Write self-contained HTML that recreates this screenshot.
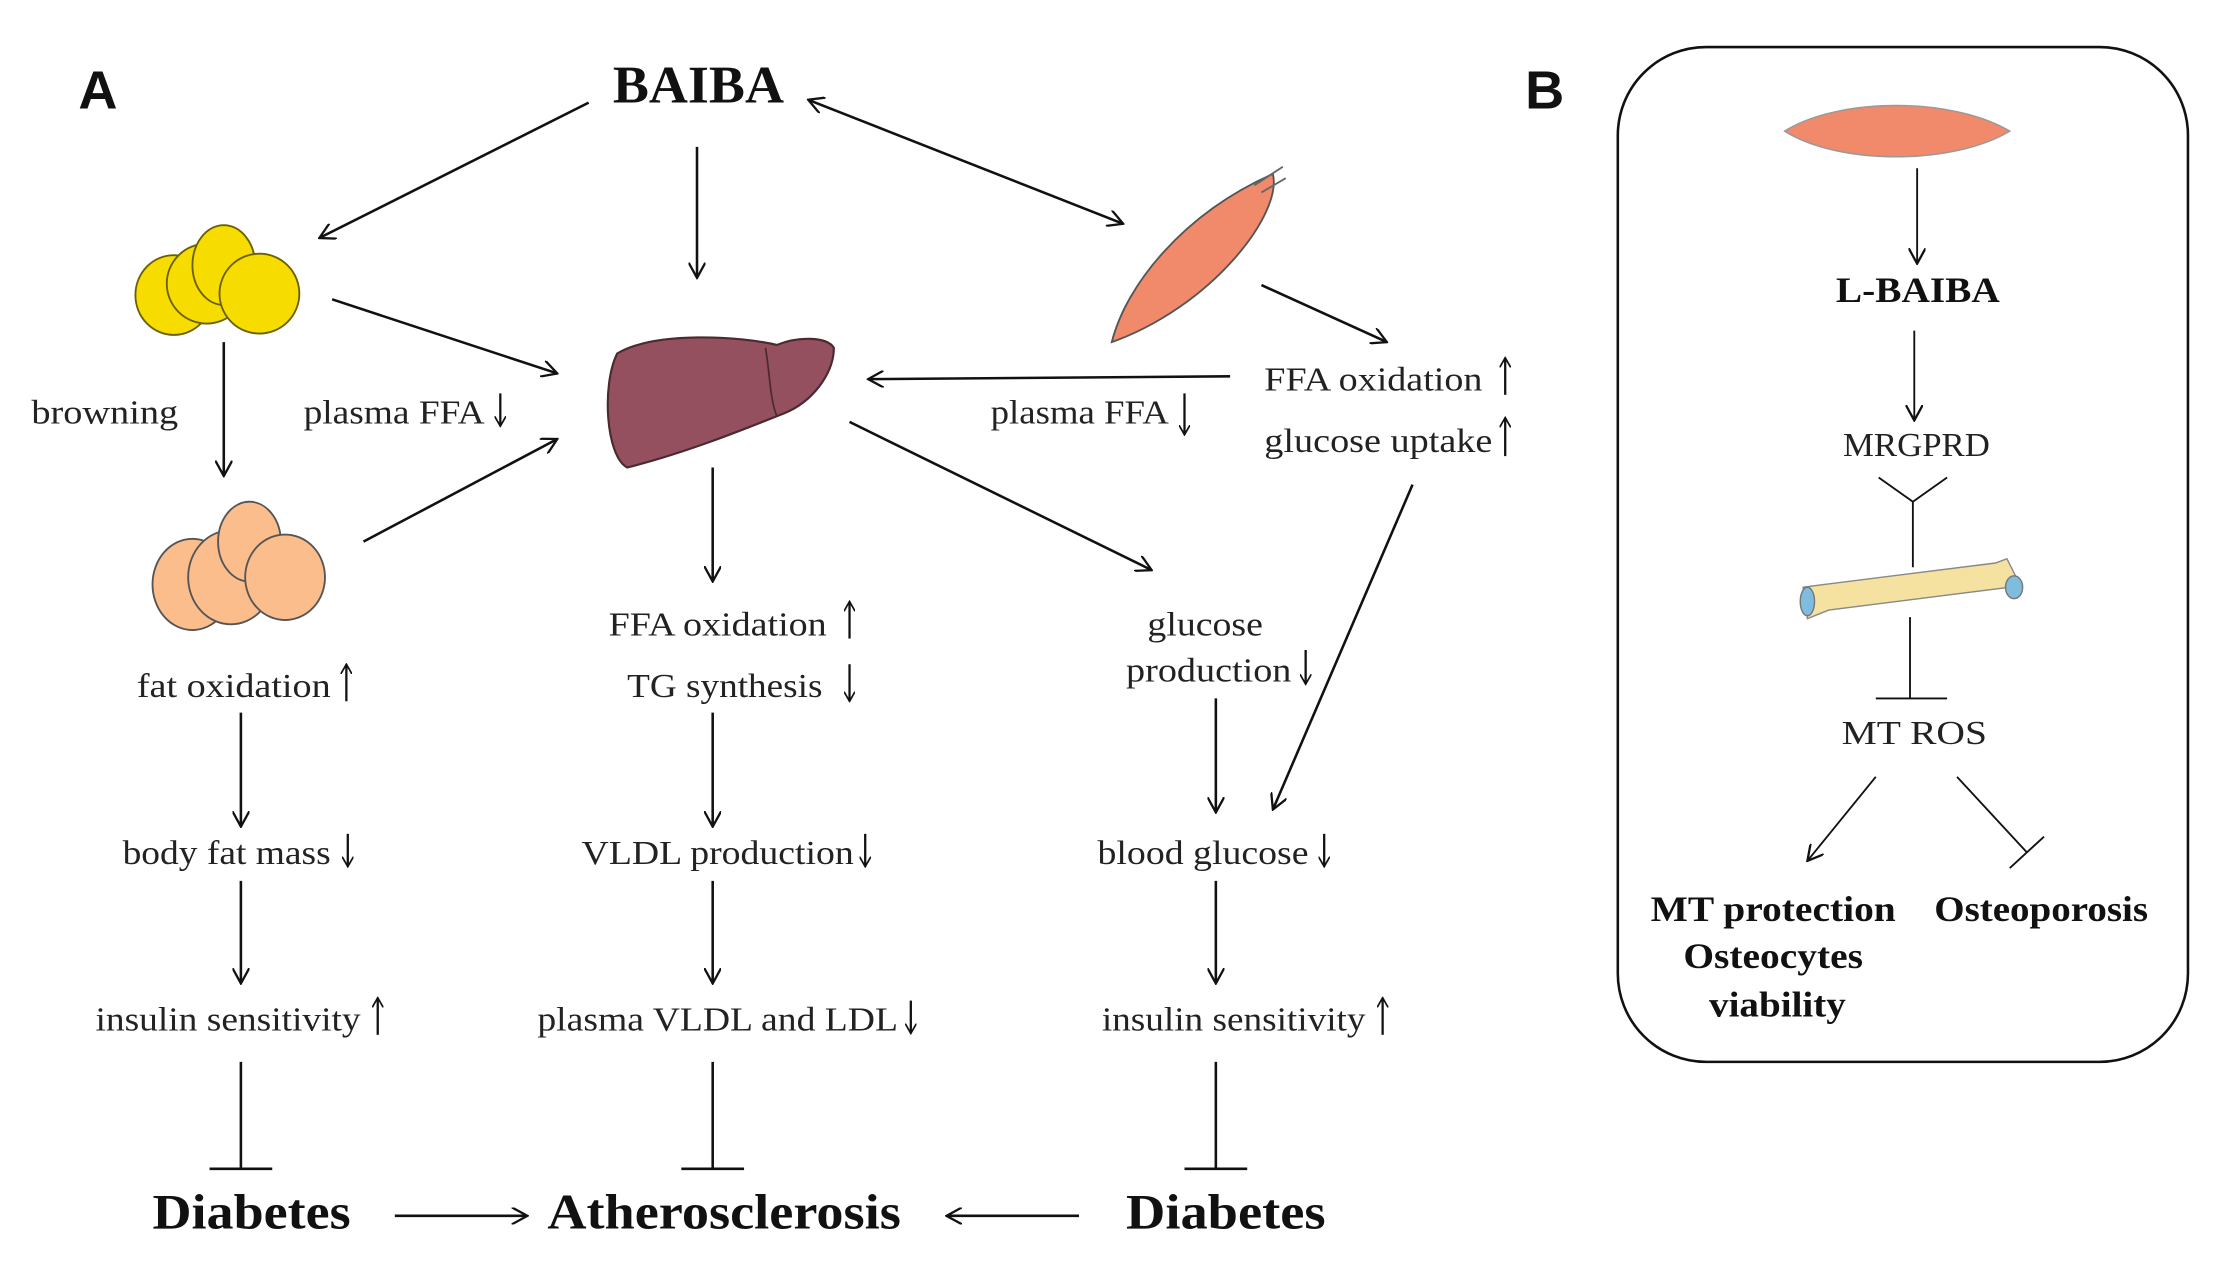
<!DOCTYPE html>
<html><head><meta charset="utf-8"><style>
html,body{margin:0;padding:0;background:#fff;}
svg{display:block;}
.t{font-family:"Liberation Serif",serif;font-size:24px;fill:#222;}
.b{font-family:"Liberation Serif",serif;font-weight:bold;fill:#111;}
</style></head><body>
<svg width="2235" height="1270" viewBox="0 0 1568 891" preserveAspectRatio="none" xmlns="http://www.w3.org/2000/svg">
<defs>
<marker id="a" viewBox="0 0 12 12" refX="11" refY="6" markerWidth="12" markerHeight="12" markerUnits="userSpaceOnUse" orient="auto-start-reverse">
<path d="M0,0 L11,6 L0,12" fill="none" stroke="#111" stroke-width="1.6"/></marker>
<marker id="s" viewBox="0 0 8 8" refX="7" refY="4" markerWidth="8" markerHeight="8" markerUnits="userSpaceOnUse" orient="auto">
<path d="M0,0 L7,4 L0,8" fill="none" stroke="#111" stroke-width="1.2"/></marker>
</defs>
<g stroke="#111" stroke-width="1.8" fill="none">
<line x1="413" y1="72" x2="224" y2="167" marker-end="url(#a)"/>
<line x1="489" y1="103" x2="489" y2="195" marker-end="url(#a)"/>
<line x1="567" y1="70" x2="788" y2="157" marker-end="url(#a)" marker-start="url(#a)"/>
<line x1="233" y1="210" x2="391" y2="262" marker-end="url(#a)"/>
<line x1="157" y1="240" x2="157" y2="334" marker-end="url(#a)"/>
<line x1="255" y1="380" x2="391" y2="308" marker-end="url(#a)"/>
<line x1="885" y1="200" x2="973" y2="240" marker-end="url(#a)"/>
<line x1="863" y1="264" x2="609" y2="266" marker-end="url(#a)"/>
<line x1="596" y1="296" x2="808" y2="400" marker-end="url(#a)"/>
<line x1="991" y1="340" x2="893" y2="568" marker-end="url(#a)"/>
<line x1="500" y1="328" x2="500" y2="408" marker-end="url(#a)"/>
<line x1="169" y1="500" x2="169" y2="580" marker-end="url(#a)"/>
<line x1="500" y1="500" x2="500" y2="580" marker-end="url(#a)"/>
<line x1="853" y1="490" x2="853" y2="570" marker-end="url(#a)"/>
<line x1="169" y1="618" x2="169" y2="690" marker-end="url(#a)"/>
<line x1="500" y1="618" x2="500" y2="690" marker-end="url(#a)"/>
<line x1="853" y1="618" x2="853" y2="690" marker-end="url(#a)"/>
<path d="M169,745 V820 M147,820 H191 M500,745 V820 M478,820 H522 M853,745 V820 M831,820 H875"/>
<line x1="277" y1="853" x2="370" y2="853" marker-end="url(#a)"/>
<line x1="757" y1="853" x2="664" y2="853" marker-end="url(#a)"/>
</g>
<g stroke="#111" stroke-width="1.6" fill="none">
<line x1="351" y1="276" x2="351" y2="299" marker-end="url(#s)"/>
<line x1="831" y1="276" x2="831" y2="305" marker-end="url(#s)"/>
<line x1="1056" y1="277" x2="1056" y2="251" marker-end="url(#s)"/>
<line x1="1056" y1="320" x2="1056" y2="293" marker-end="url(#s)"/>
<line x1="596" y1="448" x2="596" y2="422" marker-end="url(#s)"/>
<line x1="596" y1="466" x2="596" y2="492" marker-end="url(#s)"/>
<line x1="916" y1="456" x2="916" y2="480" marker-end="url(#s)"/>
<line x1="243" y1="492" x2="243" y2="466" marker-end="url(#s)"/>
<line x1="244" y1="585" x2="244" y2="608" marker-end="url(#s)"/>
<line x1="607" y1="585" x2="607" y2="608" marker-end="url(#s)"/>
<line x1="929" y1="585" x2="929" y2="608" marker-end="url(#s)"/>
<line x1="265" y1="726" x2="265" y2="700" marker-end="url(#s)"/>
<line x1="639" y1="702" x2="639" y2="725" marker-end="url(#s)"/>
<line x1="970" y1="726" x2="970" y2="700" marker-end="url(#s)"/>
</g>
<g stroke="#6a6000" stroke-width="1.3" fill="#f7dc00">
<ellipse cx="122" cy="207" rx="27" ry="28"/>
<ellipse cx="145" cy="199" rx="28" ry="28"/>
<ellipse cx="157" cy="186" rx="22" ry="28"/>
<ellipse cx="182" cy="206" rx="28" ry="28"/>
</g>
<g stroke="#555" stroke-width="1.3" fill="#fbbd8c">
<ellipse cx="135" cy="410" rx="28" ry="32"/>
<ellipse cx="162" cy="405" rx="30" ry="33"/>
<ellipse cx="175" cy="380" rx="22" ry="28"/>
<ellipse cx="200" cy="405" rx="28" ry="30"/>
</g>
<path d="M433,248 C460,232 520,236 545,242 C560,236 580,236 585,244 C585,262 570,282 550,290 C520,302 480,318 440,328 C425,320 422,270 433,248 Z" fill="#955060" stroke="#4a2a30" stroke-width="1.5"/>
<path d="M537,244 C540,260 540,280 545,292" stroke="#4a2a30" stroke-width="1.2" fill="none"/>
<path d="M780,240 C790,200 830,150 893,122 C900,150 850,215 780,240 Z" fill="#f08a6a" stroke="#555" stroke-width="1.3"/>
<path d="M880,130 L900,117 M885,135 L902,125" stroke="#666" stroke-width="1.3"/>
<rect x="1135" y="33" width="400" height="712" rx="62" ry="62" fill="none" stroke="#111" stroke-width="1.8"/>
<path d="M1252,92 C1290,68 1370,68 1410,92 C1370,116 1290,116 1252,92 Z" fill="#f08a6a" stroke="#999" stroke-width="1"/>
<g stroke="#111" stroke-width="1.3" fill="none">
<line x1="1345" y1="118" x2="1345" y2="185" marker-end="url(#a)"/>
<line x1="1343" y1="232" x2="1343" y2="295" marker-end="url(#a)"/>
<path d="M1318,335 L1342,352 L1366,335 M1342,352 V398"/>
<path d="M1340,433 V490 M1316,490 H1366"/>
<line x1="1316" y1="545" x2="1268" y2="604" marker-end="url(#a)"/>
<path d="M1373,545 L1422,598 M1410,609 L1434,587"/>
</g>
<path d="M1265,412 L1280,410 L1400,395 L1408,392 L1414,404 L1410,412 L1283,428 L1268,434 Z" fill="#f5e1a0" stroke="#888" stroke-width="1"/>
<ellipse cx="1268" cy="422" rx="5" ry="10" fill="#7fbde0" stroke="#777"/>
<ellipse cx="1413" cy="412" rx="6" ry="8" fill="#7fbde0" stroke="#777"/>
<text x="55" y="76" style="font-family:'Liberation Sans',sans-serif;font-weight:bold;font-size:38px" fill="#111">A</text>
<text x="1070" y="76" style="font-family:'Liberation Sans',sans-serif;font-weight:bold;font-size:38px" fill="#111">B</text>
<g lengthAdjust="spacingAndGlyphs">
<text x="430" y="72" class="b" font-size="37" textLength="120" lengthAdjust="spacingAndGlyphs">BAIBA</text>
<text x="22" y="297" class="t" textLength="103" lengthAdjust="spacingAndGlyphs">browning</text>
<text x="213" y="297" class="t" textLength="127" lengthAdjust="spacingAndGlyphs">plasma FFA</text>
<text x="695" y="297" class="t" textLength="125" lengthAdjust="spacingAndGlyphs">plasma FFA</text>
<text x="887" y="274" class="t" textLength="153" lengthAdjust="spacingAndGlyphs">FFA oxidation</text>
<text x="887" y="317" class="t" textLength="160" lengthAdjust="spacingAndGlyphs">glucose uptake</text>
<text x="427" y="446" class="t" textLength="153" lengthAdjust="spacingAndGlyphs">FFA oxidation</text>
<text x="440" y="489" class="t" textLength="137" lengthAdjust="spacingAndGlyphs">TG synthesis</text>
<text x="805" y="446" class="t" textLength="81" lengthAdjust="spacingAndGlyphs">glucose</text>
<text x="790" y="478" class="t" textLength="116" lengthAdjust="spacingAndGlyphs">production</text>
<text x="96" y="489" class="t" textLength="136" lengthAdjust="spacingAndGlyphs">fat oxidation</text>
<text x="86" y="606" class="t" textLength="146" lengthAdjust="spacingAndGlyphs">body fat mass</text>
<text x="408" y="606" class="t" textLength="191" lengthAdjust="spacingAndGlyphs">VLDL production</text>
<text x="770" y="606" class="t" textLength="148" lengthAdjust="spacingAndGlyphs">blood glucose</text>
<text x="67" y="723" class="t" textLength="186" lengthAdjust="spacingAndGlyphs">insulin sensitivity</text>
<text x="377" y="723" class="t" textLength="253" lengthAdjust="spacingAndGlyphs">plasma VLDL and LDL</text>
<text x="773" y="723" class="t" textLength="185" lengthAdjust="spacingAndGlyphs">insulin sensitivity</text>
<text x="107" y="862" class="b" font-size="35" textLength="139" lengthAdjust="spacingAndGlyphs">Diabetes</text>
<text x="384" y="862" class="b" font-size="35" textLength="248" lengthAdjust="spacingAndGlyphs">Atherosclerosis</text>
<text x="790" y="862" class="b" font-size="35" textLength="140" lengthAdjust="spacingAndGlyphs">Diabetes</text>
<text x="1288" y="212" class="b" font-size="25" textLength="115" lengthAdjust="spacingAndGlyphs">L-BAIBA</text>
<text x="1293" y="320" class="t" font-size="22" textLength="103" lengthAdjust="spacingAndGlyphs">MRGPRD</text>
<text x="1292" y="522" class="t" font-size="25" textLength="102" lengthAdjust="spacingAndGlyphs">MT ROS</text>
<text x="1158" y="646" class="b" font-size="25" textLength="172" lengthAdjust="spacingAndGlyphs">MT protection</text>
<text x="1181" y="679" class="b" font-size="25" textLength="126" lengthAdjust="spacingAndGlyphs">Osteocytes</text>
<text x="1199" y="713" class="b" font-size="25" textLength="96" lengthAdjust="spacingAndGlyphs">viability</text>
<text x="1357" y="646" class="b" font-size="25" textLength="150" lengthAdjust="spacingAndGlyphs">Osteoporosis</text>
</g>
</svg>
</body></html>
